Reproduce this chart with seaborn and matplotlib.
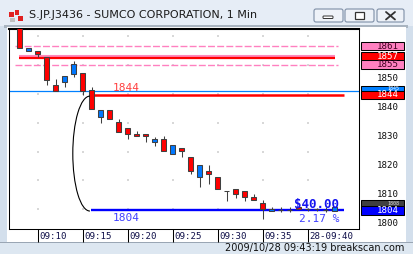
import numpy as np
import matplotlib
matplotlib.use("Agg")
import matplotlib.pyplot as plt
import matplotlib.transforms as mtransforms
from matplotlib.patches import Rectangle, FancyBboxPatch, Arc
import seaborn as sns

sns.set_theme(style="white")
plt.rcParams['font.family'] = ['DejaVu Sans']

# ---------------- data ----------------
times = ["09:08", "09:09", "09:10", "09:11", "09:12", "09:13", "09:14", "09:15", "09:16",
         "09:17", "09:18", "09:19", "09:20", "09:21", "09:22", "09:23", "09:24", "09:25",
         "09:26", "09:27", "09:28", "09:29", "09:30", "09:31", "09:32", "09:33", "09:34",
         "09:35", "09:36", "09:37", "09:38", "09:39", "09:40", "09:41", "09:42", "09:43"]
opens = [1868.0, 1859.1, 1859.1, 1857.0, 1847.5, 1848.4, 1851.4, 1851.6, 1845.7,
         1836.5, 1838.8, 1834.5, 1832.4, 1830.4, 1830.4, 1827.6, 1828.7, 1823.4,
         1825.6, 1822.5, 1815.5, 1817.6, 1815.6, 1810.7, 1811.3, 1810.6, 1808.6,
         1806.5, 1803.7, 1804.1, 1804.1, 1805.3, 1804.4, 1804.4, 1804.1, 1803.8]
closes = [1860.1, 1860.1, 1858.1, 1849.3, 1845.5, 1850.5, 1854.7, 1845.5, 1839.1,
          1838.8, 1835.7, 1831.3, 1830.4, 1829.7, 1829.7, 1828.7, 1824.6, 1826.6,
          1824.5, 1817.6, 1819.7, 1816.5, 1811.3, 1810.7, 1809.6, 1808.6, 1807.5,
          1804.4, 1804.4, 1804.1, 1804.1, 1804.4, 1804.4, 1804.4, 1804.1, 1805.1]
highs = [1868.0, 1860.1, 1859.1, 1857.0, 1849.6, 1850.5, 1855.9, 1851.6, 1846.8,
         1838.8, 1838.8, 1835.7, 1832.4, 1831.4, 1830.4, 1829.5, 1829.9, 1826.6,
         1825.6, 1822.5, 1819.7, 1819.7, 1815.6, 1810.7, 1811.3, 1810.6, 1809.6,
         1807.5, 1805.3, 1805.3, 1805.3, 1805.3, 1805.0, 1805.0, 1805.3, 1805.1]
lows = [1860.1, 1859.1, 1857.0, 1847.5, 1845.5, 1846.6, 1850.3, 1844.1, 1839.1,
        1834.4, 1835.7, 1831.3, 1828.6, 1829.7, 1827.6, 1826.4, 1824.6, 1823.4,
        1822.4, 1816.5, 1812.2, 1813.3, 1811.3, 1807.4, 1808.4, 1807.4, 1807.5,
        1800.9, 1803.7, 1803.5, 1803.5, 1804.4, 1803.8, 1803.8, 1803.5, 1803.8]

x_tick_times = ["09:10", "09:15", "09:20", "09:25", "09:30", "09:35", "09:40"]
x_tick_labels = ["09:10", "09:15", "09:20", "09:25", "09:30", "09:35", "28-09:40"]
y_ticks = [1800, 1810, 1820, 1830, 1840, 1850]

# price level markers on the right scale: (value, label, face, text colour)
level_values = [1860.9, 1857.3, 1854.5, 1845.6, 1844.0, 1806.1, 1804.0]
level_labels = ["1861", "1857", "1855", "1845", "1844", "1808", "1804"]
level_faces = ["#ff80c0", "#ff0000", "#ff80c0", "#0080ff", "#ff0000", "#404040", "#0000ff"]
level_text = ["#400020", "white", "#400020", "white", "white", "#e0e0e0", "white"]
covered_by = [None, None, None, 4, None, 6, None]

title = "S.JP.J3436 - SUMCO CORPORATION, 1 Min"
status = "2009/10/28 09:43:19 breakscan.com"


def to_min(t):
    h, m = t.split(":")
    return (int(h) - 9) * 60 + int(m)


xs = np.array([to_min(t) for t in times], dtype=float)
o = np.array(opens); c = np.array(closes); hi = np.array(highs); lo = np.array(lows)

W, H = 413, 254
fig = plt.figure(figsize=(W / 100, H / 100), dpi=100)

# ---------------- window chrome ----------------
bg = fig.add_axes([0, 0, 1, 1])
bg.set_xlim(0, W); bg.set_ylim(H, 0); bg.axis('off')


def rect(x0, y0, x1, y1, fc, ec='none', lw=0, z=0):
    bg.add_patch(Rectangle((x0, y0), x1 - x0, y1 - y0, facecolor=fc,
                           edgecolor=ec, linewidth=lw, zorder=z))


rect(0, 0, W, H, '#d3dfec')
rect(0, 0, W, 26, '#e6edf6')
rect(4, 25, 408, 27.5, '#a9b4c0')
rect(7, 27, 406, 242, 'white')
rect(0, 242.5, W, H, '#dde7f1')
rect(0, 242, W, 243, '#9aa6b4')
# icon
rect(9, 12, 14, 17, '#e02020'); rect(15, 10, 19, 15, '#e02020')
rect(18, 16, 23, 21, '#e02020'); rect(10, 18, 15, 22, '#c0c0c0')
bg.text(29, 15.5, title, fontsize=8, va='center', ha='left', color='#1a1a1a')
for (x0, x1) in [(314, 343), (345, 374), (377, 404)]:
    bg.add_patch(FancyBboxPatch((x0, 9), x1 - x0, 13, boxstyle="round,pad=0,rounding_size=2",
                                facecolor='#eef2f8', edgecolor='#7d8ea6', linewidth=0.8))
bg.add_patch(FancyBboxPatch((323, 16), 10, 2.5, boxstyle="round,pad=0,rounding_size=0.8",
                            facecolor='white', edgecolor='#333333', linewidth=0.7))
bg.add_patch(Rectangle((355, 12), 9, 6.5, facecolor='white', edgecolor='#333333', linewidth=0.9))
bg.plot([386, 395], [12, 19.5], color='#333333', lw=1.3)
bg.plot([386, 395], [19.5, 12], color='#333333', lw=1.3)
bg.text(404, 248.5, status, fontsize=7, ha='right', va='center', color='#101010')

# ---------------- main chart ----------------
ax = fig.add_axes([9 / W, 1 - 229 / H, 350 / W, 200 / H])
ax.set_facecolor('white')
x_left = 10 + (9 - 37.7) / 9
x_right = 10 + (359 - 37.7) / 9
ax.set_xlim(x_left, x_right)
ax.set_ylim(1797.58, 1866.84)

for s in ['left', 'right', 'bottom']:
    ax.spines[s].set_linewidth(0.75); ax.spines[s].set_color('black')
ax.spines['top'].set_linewidth(1.5); ax.spines['top'].set_color('black')

# faint grid dots
gx = [to_min(t) for t in x_tick_times]
gy = [1864.4, 1854.5, 1844.4, 1834.4, 1824.4, 1814.4, 1804.4]
GX, GY = np.meshgrid(gx, gy)
ax.scatter(GX.ravel(), GY.ravel(), s=0.6, color='#d8d8d8', marker='s', linewidths=0, zorder=1)

# level lines
PINK = '#ff80c0'
ax.hlines([level_values[0], level_values[2]], 7.5, 43.4, colors=PINK, lw=1.0,
          linestyles=(0, (5, 1.6)), zorder=2)
ax.hlines(level_values[1] + 0.3, 7.9, 43.0, colors='#ff88bb', lw=1.5, zorder=2)
ax.hlines(level_values[1] - 0.35, 7.9, 43.0, colors='#ff0000', lw=1.6, zorder=2)
ax.axhline(level_values[3] - 0.2, color='#0080ff', lw=0.9, zorder=2)
ax.hlines(level_values[4], 15.95, 44.0, colors='#ff0000', lw=1.8, zorder=2)
ax.hlines(level_values[6], 15.9, 44.0, colors='#0000ff', lw=1.7, zorder=2)

# candles
ax.vlines(xs, lo, hi, colors='#404040', lw=0.75, zorder=3)
colors = np.where(c > o, '#0078ff', '#ff0000')
ax.bar(xs, c - o, bottom=o, width=0.58, color=colors, edgecolor='#404040',
       linewidth=0.75, zorder=4)

# curve
ax.add_patch(Arc((15.8, 1823.7), 2 * 1.9, 2 * 19.9, theta1=90, theta2=270,
                 color='black', lw=0.8, zorder=5))

# texts
mono = 'DejaVu Sans Mono'
ax.text(18.37, 1845.4, "1844", color='#ff4040', fontsize=8, family=mono, va='baseline', zorder=6)
ax.text(18.37, 1800.2, "1804", color='#4040ff', fontsize=8, family=mono, va='baseline', zorder=6)
ax.text(38.45, 1805.0, "$40.00", color='#1414f0', fontsize=9, family=mono,
        fontweight='bold', va='baseline', zorder=6)
ax.text(39.0, 1800.1, "2.17 %", color='#4040ff', fontsize=8, family=mono, va='baseline', zorder=6)

# x ticks
ax.set_xticks(gx)
ax.set_xticklabels(x_tick_labels, family=mono, fontsize=6.6, color='#10104a', ha='left')
ax.tick_params(axis='x', direction='out', length=9.4, width=0.75, color='black',
               pad=-7.0, bottom=True)
off = mtransforms.ScaledTranslation(2 / 100, 0, fig.dpi_scale_trans)
for lbl in ax.get_xticklabels():
    lbl.set_transform(lbl.get_transform() + off)

# y ticks on right
ax.yaxis.tick_right()
ax.set_yticks(y_ticks)
ax.set_yticklabels([str(v) for v in y_ticks], family=mono, fontsize=6.6, color='#101010', ha='right')
ax.tick_params(axis='y', length=0, pad=28.8)
ax.grid(False)

# level boxes on right scale
trans = mtransforms.blended_transform_factory(bg.transData, ax.transData)
bh = 8.5 / 2.8875
for i, (v, lab, fc, tc) in enumerate(zip(level_values, level_labels, level_faces, level_text)):
    ax.add_patch(Rectangle((361, v - bh / 2), 43, bh, transform=trans, facecolor=fc,
                           edgecolor='black', linewidth=0.75, clip_on=False, zorder=7 + i * 0.1))
    if covered_by[i] is None:
        ax.text(399, v, lab, transform=trans, ha='right', va='center', fontsize=6.6,
                family=mono, color=tc, clip_on=False, zorder=7.05 + i * 0.1)
    else:
        # only the upper part of this label shows above the box that covers it
        top = v + bh / 2
        cover_top = level_values[covered_by[i]] + bh / 2
        visible = Rectangle((361, cover_top), 43, top - cover_top, transform=trans)
        t = ax.text(399, cover_top, lab, transform=trans, ha='right', va='bottom', fontsize=3.6,
                    family=mono, color=tc, zorder=7.05 + i * 0.1)
        t.set_clip_path(visible)

fig.savefig("out.png", dpi=100)
